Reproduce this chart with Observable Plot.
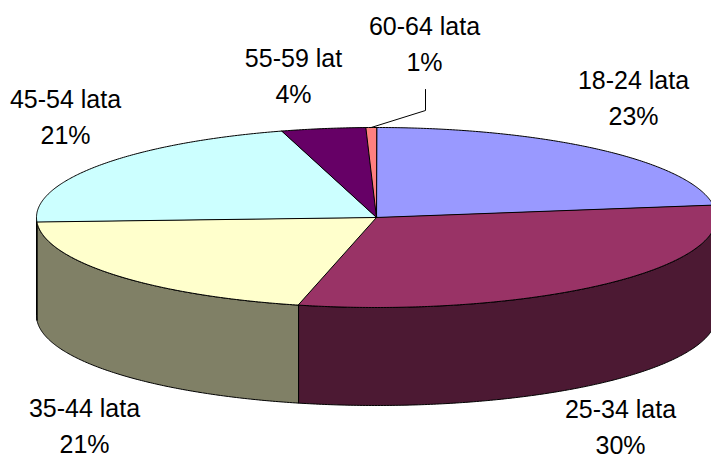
<!DOCTYPE html>
<html>
<head>
<meta charset="utf-8">
<script src="https://cdn.jsdelivr.net/npm/d3@7"></script>
<script src="https://cdn.jsdelivr.net/npm/@observablehq/plot@0.6"></script>
<style>
  html, body { margin: 0; padding: 0; background: #fff; overflow: hidden; }
  svg { display: block; }
</style>
</head>
<body>
<div id="chart"></div>
<script>
// Data
const ageGroups = ["18-24 lata", "25-34 lata", "35-44 lata", "45-54 lata", "55-59 lat", "60-64 lata"];
const sliceShares = [22.8, 30.9, 20.5, 21.3, 4.0, 0.5];
const shareLabels = ["23%", "30%", "21%", "21%", "4%", "1%"];
const topColors = ["#9999FF", "#993366", "#FFFFCC", "#CCFFFF", "#660066", "#FF8080"];
const wallColors = ["#4C4C80", "#4C1933", "#808066", "#668080", "#330033", "#804040"];

// Layout, in page pixels
const W = 711, H = 458;
const cx = 376, cy = 217, rx = 340, ry = 90, depth = 98;
const labelCentres = [[633, 95], [620, 424], [84, 423], [65, 114], [293, 73], [424, 41]];
const leaderElbow = [[425, 110], [425, 89]];

// Unit-pie coordinates (x right, v up); the scales map them to the page
const ux = px => (px - cx) / rx;
const uy = py => (cy - py) / ry;
const rim = a => [Math.sin(a), Math.cos(a)];
const drop = depth / ry;
const TAU = 2 * Math.PI;

const total = d3.sum(sliceShares);
let running = 0;
const slices = sliceShares.map((v, i) => {
  const a0 = running / total * TAU;
  running += v;
  return {i, a0, a1: running / total * TAU};
});

const arcAngles = (a0, a1) => {
  const n = Math.max(2, Math.ceil((a1 - a0) / (TAU / 720)));
  return d3.range(n + 1).map(k => a0 + (a1 - a0) * k / n);
};

const topRows = slices.flatMap(s => {
  const pts = [[0, 0], ...arcAngles(s.a0, s.a1).map(rim)];
  return pts.map(([x, y]) => ({x, y, id: ageGroups[s.i], color: topColors[s.i]}));
});

const wallRows = slices.flatMap(s => {
  const a0 = Math.max(s.a0, Math.PI / 2), a1 = Math.min(s.a1, 3 * Math.PI / 2);
  if (a1 <= a0) return [];
  const upper = arcAngles(a0, a1).map(rim);
  const lower = upper.slice().reverse().map(([x, y]) => [x, y - drop]);
  return [...upper, ...lower].map(([x, y]) => ({x, y, id: ageGroups[s.i], color: wallColors[s.i]}));
});

const labelRows = ageGroups.map((name, i) => ({
  x: ux(labelCentres[i][0]),
  y: uy(labelCentres[i][1]),
  text: name + "\n" + shareLabels[i]
}));

const last = slices[slices.length - 1];
const leaderRows = [
  rim((last.a0 + last.a1) / 2),
  ...leaderElbow.map(([px, py]) => [ux(px), uy(py)])
].map(([x, y]) => ({x, y}));

const polygon = rows => Plot.line(rows, {
  x: "x", y: "y", z: "id", fill: "color",
  stroke: "#000", strokeWidth: 1, curve: "linear-closed", strokeLinejoin: "round"
});

const chart = Plot.plot({
  width: W,
  height: H,
  margin: 0,
  axis: null,
  style: {background: "#fff"},
  x: {domain: [ux(0), ux(W)], range: [0, W]},
  y: {domain: [uy(H), uy(0)], range: [H, 0]},
  color: {type: "identity"},
  marks: [
    polygon(wallRows),
    polygon(topRows),
    Plot.line(leaderRows, {x: "x", y: "y", stroke: "#000", strokeWidth: 1}),
    Plot.text(labelRows, {
      x: "x", y: "y", text: "text",
      fontFamily: "Liberation Sans, Arial, sans-serif",
      fontSize: 25, lineHeight: 1.44, fill: "#000", textAnchor: "middle"
    })
  ]
});
document.getElementById("chart").append(chart);
</script>
</body>
</html>
